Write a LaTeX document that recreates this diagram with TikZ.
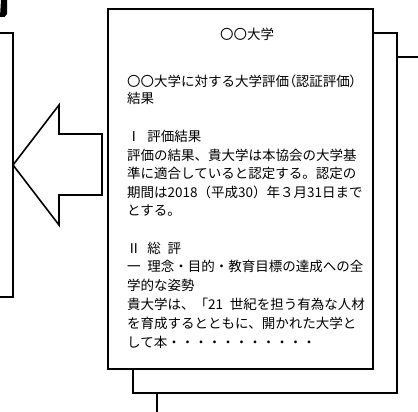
\documentclass[tikz,border=0pt]{standalone}
\usepackage{fontspec}
\newfontfamily\jp{Noto Sans CJK JP}
\newfontfamily\jpp[RawFeature=+palt]{Noto Sans CJK JP}
\newcommand{\hsp}{\hspace{6.75pt}}
\begin{document}
\begin{tikzpicture}[x=1pt,y=-1pt,
  frame/.style={draw=black, line width=2pt, fill=white},
  thinline/.style={draw=black, line width=1.6pt},
  txt/.style={anchor=base west, inner sep=0pt, font=\jp\fontsize{13.5}{13.5}\selectfont}]
\useasboundingbox (0,0) rectangle (418,412);
% cut-off mark at top left
\fill (1,0) -- (7,0) -- (7,14) -- (4.5,17) -- (0,17) -- cycle;
% left box
\draw[thinline] (-5,33) -- (13,33) -- (13,297) -- (-5,297);
% hollow arrow
\draw[thinline, fill=white, line join=miter] (13,165) -- (59,105) -- (59,134) -- (102,134) -- (102,195) -- (59,195) -- (59,225) -- cycle;
% stacked pages
\draw[frame] (157,57) rectangle (425,420);
\draw[frame] (133,33) rectangle (397,393);
\draw[frame] (108,9) rectangle (373,369);
% text
\node[txt, anchor=base] (hd) at (247,40) {〇〇大学};
\node[txt] (l1) at (127,86.5) {〇〇大学に対する大学評価{\jpp （}認証評価{\jpp ）}};
\node[txt] (l2) at (127,103) {結果};
\node[txt] (l3) at (127,141) {Ⅰ\hsp 評価結果};
\node[txt] (l4) at (127,160) {評価の結果、貴大学は本協会の大学基};
\node[txt] (l5) at (127,178.5) {準に適合していると認定する。認定の};
\node[txt] (l6) at (127,197) {期間は2018（平成30）年３月31日まで};
\node[txt] (l7) at (127,215.5) {とする。};
\node[txt] (l8) at (127,253) {Ⅱ\hsp 総\hsp 評};
\node[txt] (l9) at (127,271.5) {一\hsp 理念・目的・教育目標の達成への全};
\node[txt] (l10) at (127,290) {学的な姿勢};
\node[txt] (l11) at (127,309.5) {貴大学は、「21\hsp 世紀を担う有為な人材};
\node[txt] (l12) at (127,328.5) {を育成するとともに、開かれた大学と};
\node[txt] (l13) at (127,347.5) {して本・・・・・・・・・・・};
\end{tikzpicture}
\end{document}
